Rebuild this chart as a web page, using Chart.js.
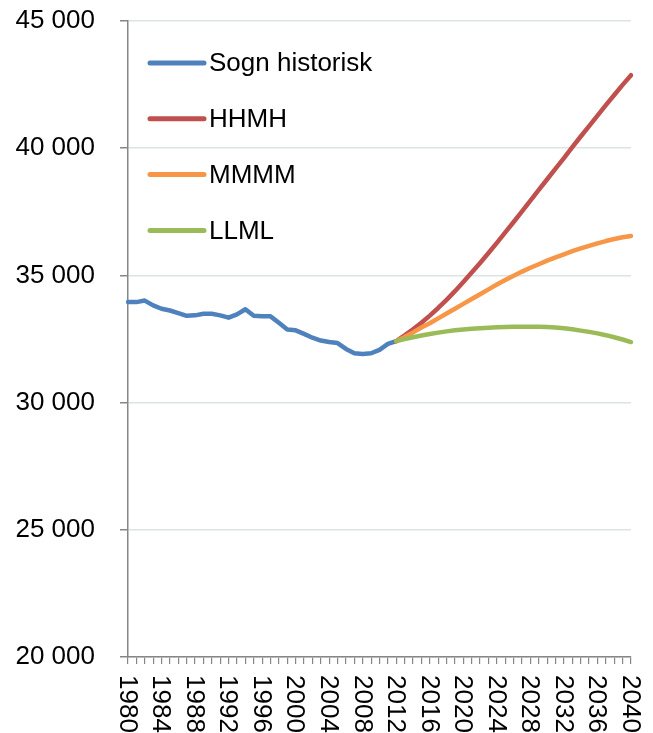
<!DOCTYPE html>
<html>
<head>
<meta charset="utf-8">
<script src="https://cdn.jsdelivr.net/npm/chart.js@4/dist/chart.umd.min.js"></script>
<style>
  html, body { margin: 0; padding: 0; background: #fff; }
  #wrap { width: 653px; height: 733px; }
</style>
</head>
<body>
<div id="wrap"><canvas id="c" width="653" height="733"></canvas></div>
<script>
// categories: one point per year
var years = ['1980','1981','1982','1983','1984','1985','1986','1987','1988','1989',
  '1990','1991','1992','1993','1994','1995','1996','1997','1998','1999',
  '2000','2001','2002','2003','2004','2005','2006','2007','2008','2009',
  '2010','2011','2012','2013','2014','2015','2016','2017','2018','2019',
  '2020','2021','2022','2023','2024','2025','2026','2027','2028','2029',
  '2030','2031','2032','2033','2034','2035','2036','2037','2038','2039','2040'];

// which years get a label on the x axis
var xTickLabels = ['1980','1984','1988','1992','1996','2000','2004','2008','2012',
  '2016','2020','2024','2028','2032','2036','2040'];

// y axis ticks
var yTicks = [20000, 25000, 30000, 35000, 40000, 45000];

// Sogn historisk, 1980 - 2012
var historisk = [33950, 33950, 34010, 33820, 33690, 33620, 33520, 33410, 33430, 33490,
  33490, 33430, 33340, 33470, 33670, 33410, 33390, 33390, 33140, 32870,
  32840, 32700, 32550, 32440, 32380, 32340, 32110, 31940, 31915, 31940,
  32075, 32310, 32415];

// projections, 2012 - 2040
var hhmh = [32415, 32640, 32880, 33140, 33420, 33720, 34040, 34380, 34740, 35110,
  35490, 35880, 36280, 36690, 37100, 37520, 37940, 38360, 38780, 39200,
  39610, 40040, 40460, 40870, 41280, 41690, 42090, 42490, 42870];
var mmmm = [32415, 32580, 32760, 32950, 33120, 33310, 33500, 33690, 33880, 34070,
  34260, 34450, 34640, 34820, 34990, 35150, 35300, 35440, 35580, 35710,
  35830, 35950, 36060, 36160, 36260, 36350, 36430, 36500, 36550];
var llml = [32415, 32500, 32570, 32640, 32700, 32750, 32800, 32840, 32870, 32900,
  32920, 32940, 32960, 32970, 32980, 32985, 32985, 32980, 32970, 32950,
  32920, 32880, 32830, 32780, 32720, 32650, 32570, 32480, 32380];

var seriesNames = ['Sogn historisk', 'HHMH', 'MMMM', 'LLML'];
var seriesColors = ['#4F81BD', '#C0504D', '#F79646', '#9BBB59'];

var FONT = "'Liberation Sans', Arial, sans-serif";
var AXIS_GREY = '#868686';

// put a series on the full year axis, null where it has no value
function padSeries(values, startYear) {
  var out = [];
  var start = years.indexOf(startYear);
  for (var i = 0; i < years.length; i++) {
    var k = i - start;
    out.push(k >= 0 && k < values.length ? values[k] : null);
  }
  return out;
}

function fmtThousands(v) {
  var s = String(Math.round(v));
  return s.replace(/\B(?=(\d{3})+(?!\d))/g, ' ');
}

var rawSeries = [[historisk, '1980'], [hhmh, '2012'], [mmmm, '2012'], [llml, '2012']];
var datasets = [];
for (var s = 0; s < rawSeries.length; s++) {
  datasets.push({
    label: seriesNames[s],
    data: padSeries(rawSeries[s][0], rawSeries[s][1]),
    borderColor: seriesColors[s],
    backgroundColor: seriesColors[s],
    borderWidth: 4.5,
    borderCapStyle: 'round',
    borderJoinStyle: 'round',
    pointRadius: 0,
    pointHoverRadius: 0,
    tension: 0,
    spanGaps: false,
    fill: false,
    order: rawSeries.length - s
  });
}

// x labels are rotated clockwise, so draw them ourselves from the scale
var xLabelPlugin = {
  id: 'xLabels',
  afterDraw: function(chart) {
    var ctx = chart.ctx;
    var xs = chart.scales.x;
    ctx.save();
    ctx.font = '26px ' + FONT;
    ctx.fillStyle = '#000';
    ctx.textAlign = 'left';
    ctx.textBaseline = 'middle';
    for (var i = 0; i < xTickLabels.length; i++) {
      var idx = years.indexOf(xTickLabels[i]);
      var px = xs.getPixelForValue(idx);
      ctx.save();
      ctx.translate(px, xs.top + 18);
      ctx.rotate(Math.PI / 2);
      ctx.fillText(xTickLabels[i], 0, 1);
      ctx.restore();
    }
    ctx.restore();
  }
};

// legend sits inside the plot area, top left
var legendPlugin = {
  id: 'insideLegend',
  afterDraw: function(chart) {
    var ctx = chart.ctx;
    var area = chart.chartArea;
    var x0 = area.left + 22;
    var y0 = area.top + 42;
    var gap = 55.8;
    ctx.save();
    ctx.font = '26px ' + FONT;
    ctx.textBaseline = 'middle';
    ctx.textAlign = 'left';
    for (var i = 0; i < seriesNames.length; i++) {
      var y = y0 + i * gap;
      ctx.strokeStyle = seriesColors[i];
      ctx.lineWidth = 5;
      ctx.lineCap = 'round';
      ctx.beginPath();
      ctx.moveTo(x0, y);
      ctx.lineTo(x0 + 54, y);
      ctx.stroke();
      ctx.fillStyle = '#000';
      ctx.fillText(seriesNames[i], x0 + 59, y + 1);
    }
    ctx.restore();
  }
};

// fixed plot box, labels may overhang the padding
function noScalePadding(scale) {
  scale.paddingTop = 0;
  scale.paddingBottom = 0;
  scale.paddingLeft = 0;
  scale.paddingRight = 0;
}

var ctx = document.getElementById('c').getContext('2d');
var chart = new Chart(ctx, {
  type: 'line',
  data: { labels: years, datasets: datasets },
  options: {
    responsive: false,
    animation: false,
    events: [],
    layout: { padding: { top: 21, right: 22, left: 0, bottom: 0 } },
    plugins: {
      legend: { display: false },
      tooltip: { enabled: false },
      title: { display: false }
    },
    scales: {
      x: {
        type: 'category',
        offset: false,
        border: { display: true, color: AXIS_GREY, width: 1.5 },
        grid: {
          drawOnChartArea: false,
          drawTicks: true,
          tickLength: 7,
          tickColor: AXIS_GREY,
          lineWidth: 1.2
        },
        ticks: { display: false, autoSkip: false },
        afterFit: function(scale) { scale.height = 76; noScalePadding(scale); }
      },
      y: {
        min: 20000,
        max: 45000,
        border: { display: true, color: AXIS_GREY, width: 1.5 },
        grid: {
          color: '#DDE3E3',
          lineWidth: 1.5,
          drawTicks: true,
          tickLength: 8,
          tickColor: AXIS_GREY
        },
        afterBuildTicks: function(scale) {
          scale.ticks = yTicks.map(function(v) { return { value: v }; });
        },
        ticks: {
          padding: 25,
          color: '#000',
          font: { family: FONT, size: 26 },
          callback: function(v) { return fmtThousands(v); }
        },
        afterFit: function(scale) { scale.width = 128; noScalePadding(scale); }
      }
    }
  },
  plugins: [xLabelPlugin, legendPlugin]
});
</script>
</body>
</html>
